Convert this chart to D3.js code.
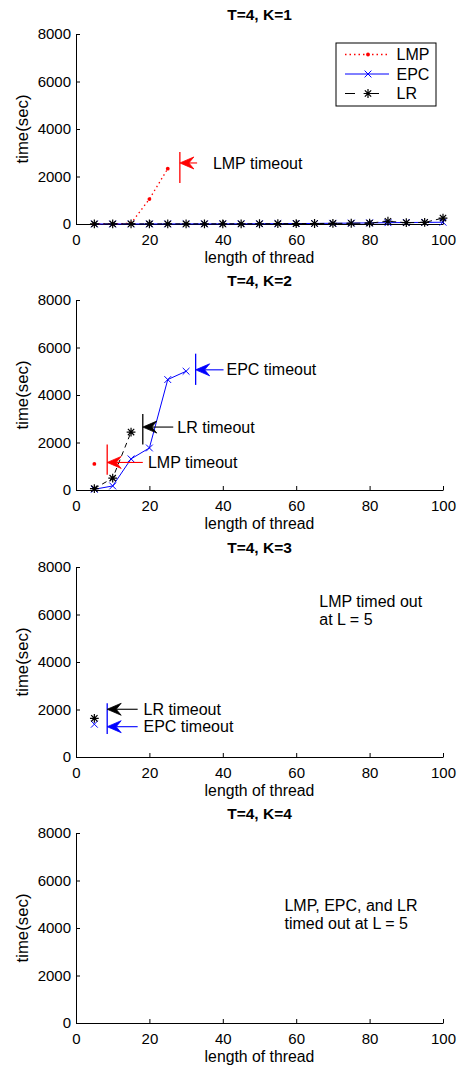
<!DOCTYPE html>
<html>
<head>
<meta charset="utf-8">
<script src="https://cdn.jsdelivr.net/npm/d3@7"></script>
<style>
  html, body { margin: 0; padding: 0; background: #fff; }
  svg text { font-family: "Liberation Sans", Arial, Helvetica, sans-serif; fill: #000; }
</style>
</head>
<body>
<svg id="chart" width="457" height="1067"></svg>
<script>
// ---- data -------------------------------------------------------------
const xTicks = [0, 20, 40, 60, 80, 100];
const yTicks = [0, 2000, 4000, 6000, 8000];
const panelTitles = ["T=4, K=1", "T=4, K=2", "T=4, K=3", "T=4, K=4"];
const seriesNames = ["LMP", "EPC", "LR"];

const threadLen = [5, 10, 15, 20, 25, 30, 35, 40, 45, 50, 55, 60, 65, 70, 75, 80, 85, 90, 95, 100];

// K = 1
const lmpK1 = [1, 5, 30, 1050, 2330];
const epcK1 = [1, 1, 2, 2, 3, 4, 5, 7, 9, 12, 15, 19, 24, 30, 38, 47, 55, 62, 68, 75];
const lrK1  = [2, 2, 3, 3, 4, 5, 6, 7, 9, 11, 14, 17, 21, 26, 31, 38, 115, 55, 65, 250];
// K = 2
const lmpK2 = [1100];
const epcK2 = [30, 170, 1310, 1770, 4650, 5000];
const lrK2  = [60, 500, 2440];
// K = 3
const lmpK3 = [];
const epcK3 = [1380];
const lrK3  = [1630];
// K = 4
const lmpK4 = [];
const epcK4 = [];
const lrK4  = [];

// timeout markers: bar at x from y0..y1, arrow at arrowY from tail to the bar, label at textX
const timeoutsK1 = [
  { s: "LMP", x: 28.3, y0: 1730, y1: 3030, arrows: [{ s: "LMP", y: 2570, tail: 33, textX: 37.3, label: "LMP timeout" }] }
];
const timeoutsK2 = [
  { s: "LMP", x: 8.5, y0: 640, y1: 1915, arrows: [{ s: "LMP", y: 1160, tail: 18.2, textX: 19.6, label: "LMP timeout" }] },
  { s: "LR", x: 18.2, y0: 1915, y1: 3200, arrows: [{ s: "LR", y: 2650, tail: 26.5, textX: 27.6, label: "LR timeout" }] },
  { s: "EPC", x: 32.6, y0: 4425, y1: 5740, arrows: [{ s: "EPC", y: 5060, tail: 40.2, textX: 41.0, label: "EPC timeout" }] }
];
const timeoutsK3 = [
  { s: "EPC", x: 8.5, y0: 970, y1: 2260, arrows: [
    { s: "LR", y: 2010, tail: 16.8, textX: 18.4, label: "LR timeout" },
    { s: "EPC", y: 1276, tail: 16.8, textX: 18.4, label: "EPC timeout" }
  ] }
];
const timeoutsK4 = [];

const notesK3 = { x: 66.3, y: 6570, lines: ["LMP timed out", "at L = 5"] };
const notesK4 = { x: 56.8, y: 4970, lines: ["LMP, EPC, and LR", "timed out at L = 5"] };

// ---- styling ----------------------------------------------------------
const style = {
  LMP: { color: "#ff0000", dash: "1.5,3", width: 1.3, marker: "dot" },
  EPC: { color: "#0000ff", dash: null, width: 1, marker: "x" },
  LR:  { color: "#000000", dash: "5,4", width: 1, marker: "star" }
};

const panels = [
  { title: panelTitles[0], series: { LMP: lmpK1, EPC: epcK1, LR: lrK1 }, timeouts: timeoutsK1, note: null, legend: true },
  { title: panelTitles[1], series: { LMP: lmpK2, EPC: epcK2, LR: lrK2 }, timeouts: timeoutsK2, note: null, legend: false },
  { title: panelTitles[2], series: { LMP: lmpK3, EPC: epcK3, LR: lrK3 }, timeouts: timeoutsK3, note: notesK3, legend: false },
  { title: panelTitles[3], series: { LMP: lmpK4, EPC: epcK4, LR: lrK4 }, timeouts: timeoutsK4, note: notesK4, legend: false }
];

// ---- layout -----------------------------------------------------------
const svg = d3.select("#chart");
const left = 76, plotW = 367, plotH = 190;
const tops = [34, 300, 567, 833];
const tickFont = 15, labelFont = 15.8, noteFont = 16, titleFont = 15.5;

const x = d3.scaleLinear().domain([0, 100]).range([0, plotW]);
const y = d3.scaleLinear().domain([0, 8000]).range([plotH, 0]);

function drawMarker(g, kind, cx, cy, color) {
  if (kind === "dot") {
    g.append("circle").attr("cx", cx).attr("cy", cy).attr("r", 1.9).attr("fill", color);
  } else if (kind === "x") {
    const r = 3.4;
    g.append("path")
      .attr("d", `M${cx - r},${cy - r}L${cx + r},${cy + r}M${cx - r},${cy + r}L${cx + r},${cy - r}`)
      .attr("stroke", color).attr("stroke-width", 1).attr("fill", "none");
  } else if (kind === "star") {
    const r = 4.4, d = r * 0.72;
    g.append("path")
      .attr("d", `M${cx - r},${cy}L${cx + r},${cy}M${cx},${cy - r}L${cx},${cy + r}` +
                 `M${cx - d},${cy - d}L${cx + d},${cy + d}M${cx - d},${cy + d}L${cx + d},${cy - d}`)
      .attr("stroke", color).attr("stroke-width", 1.2).attr("fill", "none");
  }
}

function drawArrow(g, x0, x1, yy, color) {
  // shaft from tail (x0) to tip (x1), filled head pointing at x1
  const head = 14, half = 6, notch = 9;
  g.append("line").attr("x1", x0).attr("x2", x1 + notch).attr("y1", yy).attr("y2", yy)
    .attr("stroke", color).attr("stroke-width", 1.1);
  g.append("path")
    .attr("d", `M${x1},${yy}L${x1 + head},${yy - half}L${x1 + notch},${yy}L${x1 + head},${yy + half}Z`)
    .attr("fill", color).attr("stroke", color).attr("stroke-width", 0.8).attr("stroke-linejoin", "round");
}

const line = d3.line().x(d => x(d[0])).y(d => y(d[1]));

panels.forEach((p, i) => {
  const g = svg.append("g").attr("transform", `translate(${left},${tops[i]})`);

  // title
  g.append("text").attr("x", plotW / 2).attr("y", -14.5)
    .attr("text-anchor", "middle").attr("font-weight", "bold").attr("font-size", titleFont)
    .text(p.title);

  // axes (ticks point inward)
  const xa = g.append("g").attr("transform", `translate(0,${plotH})`)
    .call(d3.axisBottom(x).tickValues(xTicks).tickSizeInner(-4).tickSizeOuter(0).tickPadding(10));
  const ya = g.append("g")
    .call(d3.axisLeft(y).tickValues(yTicks).tickSizeInner(-4).tickSizeOuter(0).tickPadding(5).tickFormat(d3.format("d")));
  [xa, ya].forEach(a => {
    a.attr("font-family", null).attr("font-size", null);
    a.selectAll("text").attr("font-size", tickFont).style("fill", "#000");
    a.selectAll("line, path").attr("stroke", "#000").attr("stroke-width", 1);
  });

  // axis labels
  g.append("text").attr("x", plotW / 2).attr("y", plotH + 39)
    .attr("text-anchor", "middle").attr("font-size", labelFont).text("length of thread");
  g.append("text").attr("transform", `translate(${22 - left},${plotH / 2}) rotate(-90)`)
    .attr("text-anchor", "middle").attr("dy", "0.35em").attr("font-size", 16.8).text("time(sec)");

  // series
  seriesNames.forEach(name => {
    const vals = p.series[name];
    if (!vals.length) return;
    const pts = vals.map((v, k) => [threadLen[k], v]);
    const st = style[name];
    if (pts.length > 1) {
      g.append("path").datum(pts).attr("d", line)
        .attr("fill", "none").attr("stroke", st.color).attr("stroke-width", st.width)
        .attr("stroke-dasharray", st.dash);
    }
    pts.forEach(d => drawMarker(g, st.marker, x(d[0]), y(d[1]), st.color));
  });

  // timeout bars and arrows
  p.timeouts.forEach(t => {
    g.append("line").attr("x1", x(t.x)).attr("x2", x(t.x)).attr("y1", y(t.y0)).attr("y2", y(t.y1))
      .attr("stroke", style[t.s].color).attr("stroke-width", 1.3);
    t.arrows.forEach(a => {
      drawArrow(g, x(a.tail), x(t.x), y(a.y), style[a.s].color);
      g.append("text").attr("x", x(a.textX)).attr("y", y(a.y)).attr("dy", "0.35em")
        .attr("font-size", noteFont).text(a.label);
    });
  });

  // notes
  if (p.note) {
    p.note.lines.forEach((s, k) => {
      g.append("text").attr("x", x(p.note.x)).attr("y", y(p.note.y) + k * 18).attr("dy", "0.35em")
        .attr("font-size", noteFont).text(s);
    });
  }

  // legend
  if (p.legend) {
    const lg = g.append("g").attr("transform", `translate(${336 - left},${43 - tops[i]})`);
    lg.append("rect").attr("x", 0).attr("y", 0).attr("width", 100).attr("height", 63)
      .attr("fill", "#fff").attr("stroke", "#000").attr("stroke-width", 1);
    seriesNames.forEach((name, k) => {
      const st = style[name];
      const ry = 11.5 + k * 19.5;
      lg.append("line").attr("x1", 9).attr("x2", 53).attr("y1", ry).attr("y2", ry)
        .attr("stroke", st.color).attr("stroke-width", st.width)
        .attr("stroke-dasharray", name === "LR" ? "10,14" : st.dash);
      drawMarker(lg, st.marker, 32, ry, st.color);
      lg.append("text").attr("x", 60.5).attr("y", ry).attr("dy", "0.35em")
        .attr("font-size", noteFont).text(name);
    });
  }
});
</script>
</body>
</html>
